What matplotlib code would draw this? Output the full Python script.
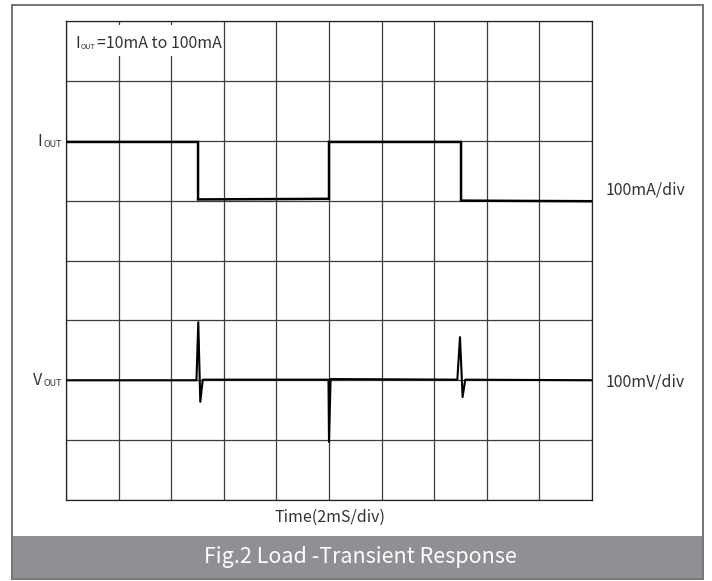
import numpy as np
import matplotlib
matplotlib.use("Agg")
import matplotlib.pyplot as plt
from matplotlib.patches import Rectangle

plt.rcParams['font.family'] = ['Noto Sans CJK SC', 'DejaVu Sans']

W, H = 712, 581

# --- data, in scope divisions (x: 0..10, y: 0..8 from the bottom) ---
iout_t = [0, 2.51, 2.51, 5.0, 5.0, 7.51, 7.51, 10]
iout_v = [5.98, 5.98, 5.02, 5.03, 5.98, 5.98, 5.0, 4.99]

vout_t = [0, 2.48, 2.515, 2.553, 2.6, 4.99, 5.0, 5.03, 7.44, 7.49, 7.54, 7.59, 10]
vout_v = [2.0, 2.0, 2.97, 1.64, 2.01, 2.01, 0.97, 2.02, 2.01, 2.72, 1.72, 2.01, 2.0]

n_xdiv = 10
n_ydiv = 8

caption = "Fig.2 Load -Transient Response"
xlabel = "Time(2mS/div)"
note = "=10mA to 100mA"
iscale = "100mA/div"
vscale = "100mV/div"


def px(x, y):
    # pixel position (from top-left) -> figure fraction
    return x / W, 1 - y / H


fig = plt.figure(figsize=(W / 100, H / 100), dpi=100)

# outer frame and caption band
frame = Rectangle(px(12, 579), (703 - 12) / W, (579 - 5) / H, transform=fig.transFigure,
                  facecolor='white', edgecolor='#6a6a6a', lw=1.3, zorder=0)
fig.patches.append(frame)
band = Rectangle(px(13, 578), (702 - 13) / W, (578 - 536) / H, transform=fig.transFigure,
                 facecolor='#8f9094', edgecolor='none', zorder=1)
fig.patches.append(band)
fig.text(*px(360, 557), caption, color='white', fontsize=15.5, ha='center', va='center')

# scope grid
l, r, t, b = 66, 592, 21, 500
ax = fig.add_axes([l / W, 1 - b / H, (r - l) / W, (b - t) / H])
ax.set_zorder(3)
ax.set_facecolor('none')
ax.set_xlim(0, n_xdiv)
ax.set_ylim(0, n_ydiv)
ax.set_xticks(np.arange(0, n_xdiv + 1))
ax.set_yticks(np.arange(0, n_ydiv + 1))
ax.grid(True, color='#3c3c3c', lw=0.9)
ax.tick_params(length=0, labelbottom=False, labelleft=False)
for s in ax.spines.values():
    s.set_color('#222222')
    s.set_linewidth(0.9)

ax.plot(iout_t, iout_v, color='black', lw=1.8, solid_joinstyle='miter', zorder=3)
ax.plot(vout_t, vout_v, color='black', lw=1.5, zorder=3)

# white box behind the note in the top-left cell
ax.add_patch(Rectangle(px(72, 56), (223 - 72) / W, (56 - 25) / H, transform=fig.transFigure,
                       facecolor='white', edgecolor='none', zorder=4, clip_on=False))

txt = '#333333'


def sub_label(x_main, y_base, main, size=11.5, subsize=6.5):
    fig.text(*px(x_main, y_base), main, color=txt, fontsize=size, ha='right', va='baseline', zorder=5)
    fig.text(*px(x_main + 1, y_base + 1), 'OUT', color=txt, fontsize=subsize, ha='left',
             va='baseline', zorder=5)


sub_label(42, 146, 'I')
sub_label(42, 385, 'V')

# note: I_OUT=10mA to 100mA
fig.text(*px(75, 48), 'I', color=txt, fontsize=11.5, ha='left', va='baseline', zorder=6)
fig.text(*px(80.5, 49), 'OUT', color=txt, fontsize=5.2, ha='left', va='baseline', zorder=6)
fig.text(*px(96.5, 48), note, color=txt, fontsize=11.5, ha='left', va='baseline', zorder=6)

fig.text(*px(606, 190), iscale, color=txt, fontsize=11.5, ha='left', va='center', zorder=5)
fig.text(*px(606, 382), vscale, color=txt, fontsize=11.5, ha='left', va='center', zorder=5)
fig.text(*px(330, 517), xlabel, color=txt, fontsize=11.5, ha='center', va='center', zorder=5)

fig.savefig('out.png', dpi=100)
